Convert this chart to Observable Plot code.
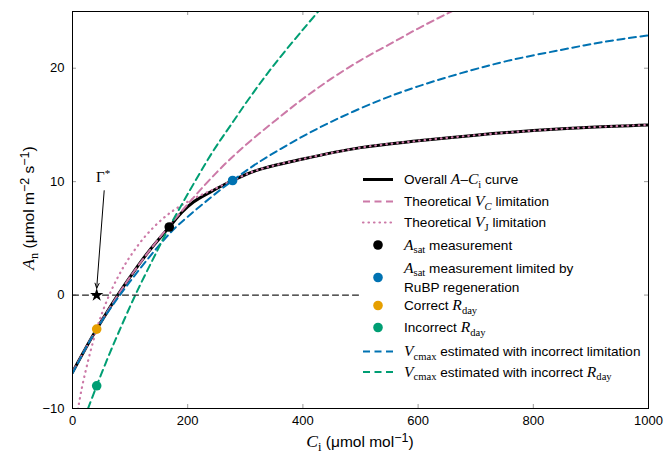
<!DOCTYPE html>
<html>
<head>
<meta charset="utf-8">
<script src="https://cdn.jsdelivr.net/npm/d3@7"></script>
<script src="https://cdn.jsdelivr.net/npm/@observablehq/plot@0.6"></script>
<style>
  html, body { margin: 0; padding: 0; background: #fff; }
  #chart svg { display: block; }
</style>
</head>
<body>
<div id="chart"></div>
<script>
// ---- data ----
const xTicks = [0, 200, 400, 600, 800, 1000];
const yTicks = [-10, 0, 10, 20];

// Overall A–Ci curve
const overallCi = [0, 20, 42, 60, 80, 100, 130, 168, 190, 210, 240, 278, 320, 400, 500, 600, 700, 800, 900, 1000];
const overallA  = [-6.8, -4.95, -3.0, -1.5, 0.1, 1.6, 3.7, 6.0, 7.3, 8.2, 9.1, 10.1, 11.0, 12.0, 13.0, 13.6, 14.1, 14.5, 14.8, 15.0];

// Theoretical Vc limitation
const vcCi = [0, 20, 42, 100, 168, 250, 300, 350, 400, 450, 500, 550, 600, 650, 700];
const vcA  = [-6.8, -4.95, -3.0, 1.6, 6.1, 10.8, 13.2, 15.3, 17.3, 19.1, 20.7, 22.1, 23.5, 24.8, 26.0];

// Theoretical VJ limitation
const vjCi = [5, 10, 20, 42, 60, 80, 100, 130, 168, 210, 240, 278, 320, 400, 500, 600, 700, 800, 900, 1000];
const vjA  = [-11.5, -9.9, -7.3, -3.0, -0.45, 1.7, 3.4, 5.4, 7.2, 8.5, 9.2, 10.1, 11.0, 12.0, 13.0, 13.6, 14.1, 14.5, 14.8, 15.0];

// Vcmax estimated with incorrect limitation
const blueCi = [0, 42, 100, 170, 200, 240, 278, 320, 379, 450, 535, 600, 691, 760, 847, 920, 1000];
const blueA  = [-6.9, -3.0, 1.2, 5.5, 6.9, 8.6, 10.1, 11.6, 13.4, 15.3, 17.2, 18.4, 19.8, 20.7, 21.6, 22.3, 22.9];

// Vcmax estimated with incorrect Rday
const greenCi = [27, 42, 60, 80, 110, 147, 168, 200, 243, 275, 309, 350, 400, 430];
const greenA  = [-10.0, -8.0, -5.7, -3.3, 0.1, 3.9, 6.0, 8.9, 12.6, 15.0, 17.5, 20.3, 23.4, 25.2];

// points
const gammaStar = [42, 0];
const asatPoint = [168, 6.0];
const asatRubpPoint = [278, 10.1];
const correctRday = [42, -3.0];
const incorrectRday = [42, -8.0];
const zeroLine = [[0, 0], [500, 0]];
const arrowFrom = [55, 9.2];
const arrowTo = [42, 0.6];
const gammaLabel = [54, 10.4];

const C = {
  black: "#000000",
  pink: "#CC79A7",
  blue: "#0072B2",
  orange: "#E69F00",
  green: "#009E73"
};

const fmt = d => d < 0 ? "\u2212" + Math.abs(d) : String(d);
const pairs = (xs, ys) => xs.map((x, i) => [x, ys[i]]);
const dash = "7,4.5";

const chart = Plot.plot({
  width: 665,
  height: 454,
  marginLeft: 72,
  marginRight: 17,
  marginTop: 11,
  marginBottom: 46,
  style: { fontFamily: "'Liberation Sans', Arial, sans-serif", fontSize: "13px", color: "#000", background: "#fff" },
  x: { domain: [0, 1000] },
  y: { domain: [-10, 25] },
  marks: [
    Plot.axisX({ ticks: xTicks, tickFormat: fmt, tickSize: 0, tickPadding: 7, label: null, fontSize: 13 }),
    Plot.axisY({ ticks: yTicks, tickFormat: fmt, tickSize: 0, tickPadding: 8, label: null, fontSize: 13 }),
    // inward ticks on all four sides
    Plot.ruleX(xTicks, { x: d => d, y1: -10, y2: -10 + 4 / 11.33, stroke: "#999" }),
    Plot.ruleX(xTicks, { x: d => d, y1: 25, y2: 25 - 4 / 11.33, stroke: "#999" }),
    Plot.ruleY(yTicks, { y: d => d, x1: 0, x2: 4 / 0.5767, stroke: "#999" }),
    Plot.ruleY(yTicks, { y: d => d, x1: 1000, x2: 1000 - 4 / 0.5767, stroke: "#999" }),
    // curves
    Plot.line(pairs(overallCi, overallA), { stroke: C.black, strokeWidth: 3, curve: "catmull-rom", clip: true }),
    Plot.line(pairs(vcCi, vcA), { stroke: C.pink, strokeWidth: 2, strokeDasharray: dash, curve: "catmull-rom", clip: true }),
    Plot.line(pairs(vjCi, vjA), { stroke: C.pink, strokeWidth: 2.2, strokeDasharray: "0.5,5", strokeLinecap: "round", curve: "catmull-rom", clip: true }),
    Plot.line(pairs(blueCi, blueA), { stroke: C.blue, strokeWidth: 2, strokeDasharray: dash, curve: "catmull-rom", clip: true }),
    Plot.line(pairs(greenCi, greenA), { stroke: C.green, strokeWidth: 2, strokeDasharray: dash, curve: "catmull-rom", clip: true }),
    Plot.line(zeroLine, { stroke: "#222", strokeWidth: 1.2, strokeDasharray: "6,4" }),
    // points
    Plot.dot([asatPoint], { x: d => d[0], y: d => d[1], r: 4.8, fill: C.black }),
    Plot.dot([asatRubpPoint], { x: d => d[0], y: d => d[1], r: 4.8, fill: C.blue }),
    Plot.dot([correctRday], { x: d => d[0], y: d => d[1], r: 4.8, fill: C.orange }),
    Plot.dot([incorrectRday], { x: d => d[0], y: d => d[1], r: 4.8, fill: C.green }),
    Plot.dot([gammaStar], { x: d => d[0], y: d => d[1], symbol: "star", r: 4.2, fill: C.black }),
    // Γ* arrow
    Plot.arrow([[arrowFrom, arrowTo]], { x1: d => d[0][0], y1: d => d[0][1], x2: d => d[1][0], y2: d => d[1][1], stroke: "#000", strokeWidth: 1, headLength: 8, headAngle: 45 }),
    Plot.frame({ stroke: "#000", strokeWidth: 1 })
  ]
});

document.getElementById("chart").appendChild(chart);

// ---- rich text (math with subscripts) ----
const svg = d3.select(chart);
const SANS = "'Liberation Sans', Arial, sans-serif";
const SERIF = "'Liberation Serif', 'DejaVu Serif', serif";

function rich(parent, x, y, parts, size = 13, anchor = "start", transform = null) {
  const t = parent.append("text")
    .attr("x", x).attr("y", y)
    .attr("text-anchor", anchor)
    .attr("fill", "#000")
    .style("font-family", SANS)
    .style("font-size", size + "px");
  if (transform) t.attr("transform", transform);
  let shift = 0;
  for (const [s, k] of parts) {
    const ts = t.append("tspan").text(s);
    let target = 0;
    if (k === "m") { ts.style("font-family", SERIF).style("font-style", "italic").style("font-size", (size + 2) + "px"); }
    else if (k === "g") { ts.style("font-family", SERIF).style("font-size", (size + 2) + "px"); }
    else if (k === "sub") { target = 3.5; ts.style("font-family", SERIF).style("font-size", (size - 3) + "px"); }
    else if (k === "subi") { target = 3.5; ts.style("font-family", SERIF).style("font-style", "italic").style("font-size", (size - 3) + "px"); }
    else if (k === "sup") { target = -5.5; ts.style("font-size", (size - 3) + "px"); }
    else if (k === "supg") { target = -5; ts.style("font-family", SERIF).style("font-size", (size - 2) + "px"); }
    if (target - shift !== 0) ts.attr("dy", target - shift);
    shift = target;
  }
  return t;
}

// Γ* label placed through the chart's own scales
const sx = chart.scale("x"), sy = chart.scale("y");
rich(svg, sx.apply(gammaLabel[0]), sy.apply(gammaLabel[1]) + 5, [["Γ", "g"], ["*", "supg"]], 13, "middle");

// axis titles
rich(svg, 360, 447, [["C", "m"], ["i", "sub"], [" (μmol mol", "t"], ["−1", "sup"], [")", "t"]], 15.5, "middle");
rich(svg, 0, 0, [["A", "m"], ["n", "sub"], [" (μmol m", "t"], ["−2", "sup"], [" s", "t"], ["−1", "sup"], [")", "t"]], 15.5, "middle", "translate(34,208) rotate(-90)");

// legend
const lg = svg.append("g");
const sx0 = 363, sx1 = 393, tx = 404;
function swatchLine(y, color, width, dasharray, cap) {
  lg.append("line").attr("x1", sx0).attr("x2", sx1).attr("y1", y).attr("y2", y)
    .attr("stroke", color).attr("stroke-width", width)
    .attr("stroke-dasharray", dasharray).attr("stroke-linecap", cap || "butt");
}
function swatchDot(y, color) {
  lg.append("circle").attr("cx", 378).attr("cy", y).attr("r", 4.8).attr("fill", color);
}

const rows = [
  { y: 179.5, sw: () => swatchLine(179.5, C.black, 3, null), parts: [["Overall ", "t"], ["A", "m"], ["–", "t"], ["C", "m"], ["i", "sub"], [" curve", "t"]] },
  { y: 201.5, sw: () => swatchLine(201.5, C.pink, 2, "7,4.5"), parts: [["Theoretical ", "t"], ["V", "m"], ["C", "subi"], [" limitation", "t"]] },
  { y: 222.5, sw: () => swatchLine(222.5, C.pink, 2.2, "0.5,5", "round"), parts: [["Theoretical ", "t"], ["V", "m"], ["J", "sub"], [" limitation", "t"]] },
  { y: 245, sw: () => swatchDot(245, C.black), parts: [["A", "m"], ["sat", "sub"], [" measurement", "t"]] },
  { y: 268, sw: () => swatchDot(277.5, C.blue), parts: [["A", "m"], ["sat", "sub"], [" measurement limited by", "t"]] },
  { y: 287, sw: () => {}, parts: [["RuBP regeneration", "t"]] },
  { y: 305.5, sw: () => swatchDot(305.5, C.orange), parts: [["Correct ", "t"], ["R", "m"], ["day", "sub"]] },
  { y: 327.5, sw: () => swatchDot(327.5, C.green), parts: [["Incorrect ", "t"], ["R", "m"], ["day", "sub"]] },
  { y: 351.5, sw: () => swatchLine(351.5, C.blue, 2, "7,4.5"), parts: [["V", "m"], ["cmax", "sub"], [" estimated with incorrect limitation", "t"]] },
  { y: 372, sw: () => swatchLine(372, C.green, 2, "7,4.5"), parts: [["V", "m"], ["cmax", "sub"], [" estimated with incorrect ", "t"], ["R", "m"], ["day", "sub"]] }
];
for (const r of rows) {
  r.sw();
  rich(lg, tx, r.y + 4.5, r.parts, 13.6);
}
</script>
</body>
</html>
